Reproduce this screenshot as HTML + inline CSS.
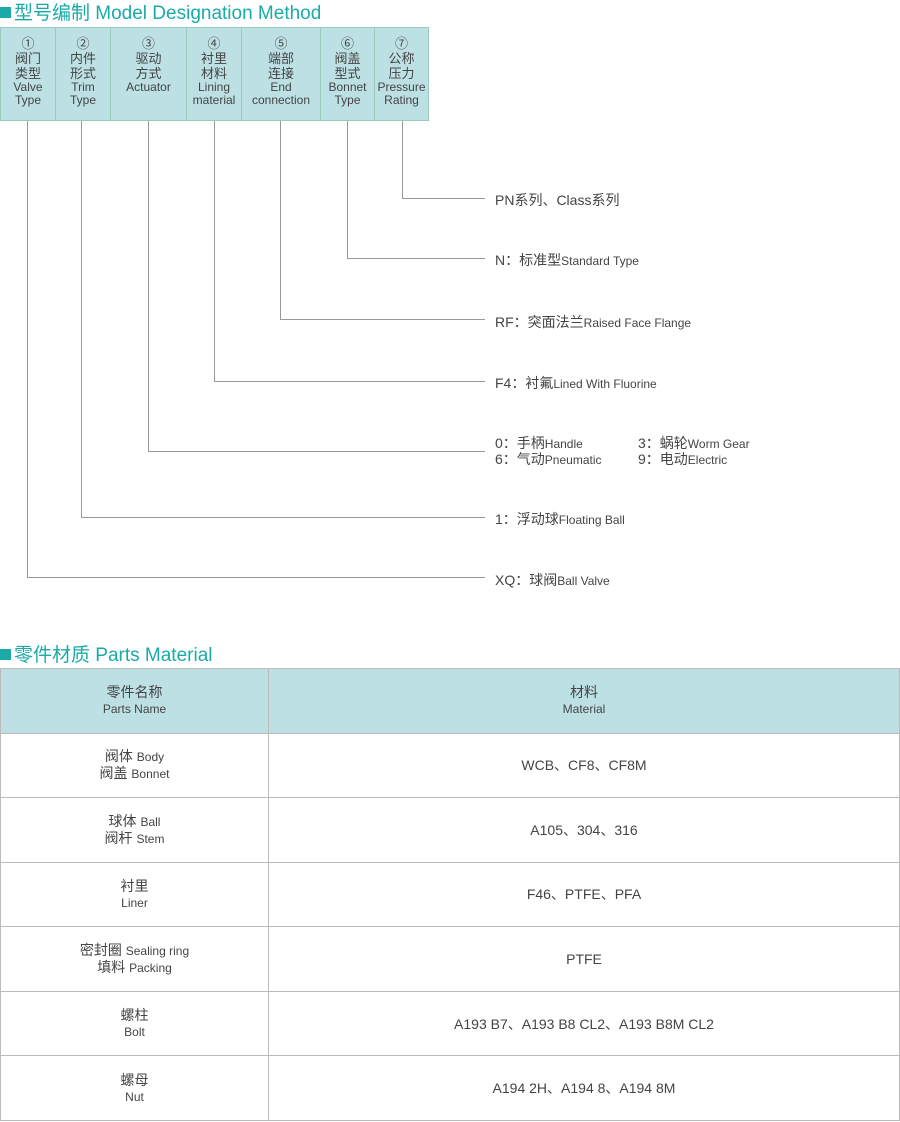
<!DOCTYPE html>
<html><head><meta charset="utf-8"><style>
*{margin:0;padding:0;box-sizing:border-box}
body{width:900px;height:1122px;background:#fff;position:relative;font-family:"Liberation Sans","Noto Sans CJK SC",sans-serif;color:#333;overflow:hidden}
.t{position:absolute;left:0;font-size:19px;color:#1aaba8;white-space:nowrap}
.t b{display:inline-block;width:11px;height:11px;background:#1aaba8;margin-right:3px;vertical-align:1px}
.h{position:absolute;top:27px;height:94px;background:#bde0e5;border:1px solid #9cb;text-align:center;font-size:12px;line-height:13px;color:#444;padding-top:8px}
.h .c{font-size:13px;line-height:15px}
.vl{position:absolute;width:1px;background:#999;top:121px}
.hl{position:absolute;height:1px;background:#999;right:415px}
.lb{position:absolute;left:495px;font-size:14px;color:#444;white-space:nowrap}
.lb small{font-size:12px}
table{position:absolute;top:668px;left:0;width:900px;height:453px;border-collapse:collapse}
td{border:1px solid #bbb;text-align:center;height:64.5px;font-size:14px;color:#444;line-height:16px}
td small{font-size:12px}
tr:first-child td{background:#bde0e5}
</style></head><body>
<div class="t" style="top:-2px"><b></b>型号编制 Model Designation Method</div>
<div class="h" style="left:0;width:56px"><span class="c">①<br>阀门<br>类型</span><br>Valve<br>Type</div>
<div class="h" style="left:55px;width:56px"><span class="c">②<br>内件<br>形式</span><br>Trim<br>Type</div>
<div class="h" style="left:110px;width:77px"><span class="c">③<br>驱动<br>方式</span><br>Actuator</div>
<div class="h" style="left:186px;width:56px"><span class="c">④<br>衬里<br>材料</span><br>Lining<br>material</div>
<div class="h" style="left:241px;width:80px"><span class="c">⑤<br>端部<br>连接</span><br>End<br>connection</div>
<div class="h" style="left:320px;width:55px"><span class="c">⑥<br>阀盖<br>型式</span><br>Bonnet<br>Type</div>
<div class="h" style="left:374px;width:55px"><span class="c">⑦<br>公称<br>压力</span><br>Pressure<br>Rating</div>

<div class="vl" style="left:402px;height:77px"></div><div class="hl" style="left:402px;top:198px"></div>
<div class="vl" style="left:347px;height:137px"></div><div class="hl" style="left:347px;top:258px"></div>
<div class="vl" style="left:280px;height:198px"></div><div class="hl" style="left:280px;top:319px"></div>
<div class="vl" style="left:214px;height:260px"></div><div class="hl" style="left:214px;top:381px"></div>
<div class="vl" style="left:148px;height:330px"></div><div class="hl" style="left:148px;top:451px"></div>
<div class="vl" style="left:81px;height:396px"></div><div class="hl" style="left:81px;top:517px"></div>
<div class="vl" style="left:27px;height:456px"></div><div class="hl" style="left:27px;top:577px"></div>

<div class="lb" style="top:190px">PN系列、Class系列</div>
<div class="lb" style="top:250px">N：标准型<small>Standard Type</small></div>
<div class="lb" style="top:312px">RF：突面法兰<small>Raised Face Flange</small></div>
<div class="lb" style="top:373px">F4：衬氟<small>Lined With Fluorine</small></div>
<div class="lb" style="top:433px">0：手柄<small>Handle</small></div>
<div class="lb" style="top:449px">6：气动<small>Pneumatic</small></div>
<div class="lb" style="top:433px;left:638px">3：蜗轮<small>Worm Gear</small></div>
<div class="lb" style="top:449px;left:638px">9：电动<small>Electric</small></div>
<div class="lb" style="top:509px">1：浮动球<small>Floating Ball</small></div>
<div class="lb" style="top:570px">XQ：球阀<small>Ball Valve</small></div>

<div class="t" style="top:640px"><b></b>零件材质 Parts Material</div>
<table>
<tr><td style="width:268px">零件名称<br><small>Parts Name</small></td><td>材料<br><small>Material</small></td></tr>
<tr><td>阀体 <small>Body</small><br>阀盖 <small>Bonnet</small></td><td>WCB、CF8、CF8M</td></tr>
<tr><td>球体 <small>Ball</small><br>阀杆 <small>Stem</small></td><td>A105、304、316</td></tr>
<tr><td>衬里<br><small>Liner</small></td><td>F46、PTFE、PFA</td></tr>
<tr><td>密封圈 <small>Sealing ring</small><br>填料 <small>Packing</small></td><td>PTFE</td></tr>
<tr><td>螺柱<br><small>Bolt</small></td><td>A193 B7、A193 B8 CL2、A193 B8M CL2</td></tr>
<tr><td>螺母<br><small>Nut</small></td><td>A194 2H、A194 8、A194 8M</td></tr>
</table>
</body></html>
